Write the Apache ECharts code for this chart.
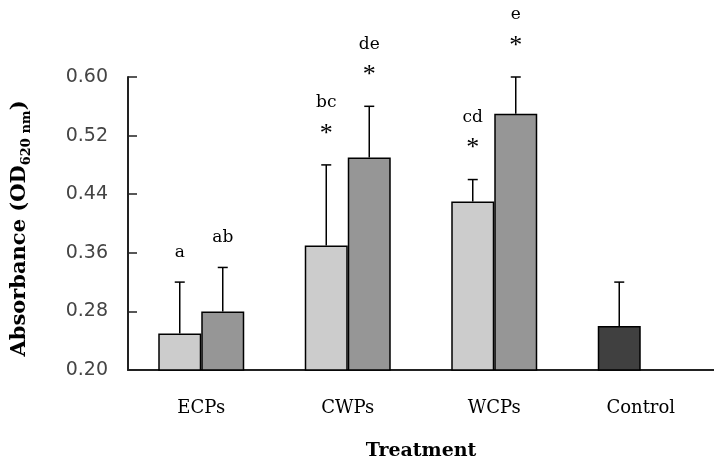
<!DOCTYPE html>
<html>
<head>
<meta charset="utf-8">
<script src="https://cdn.jsdelivr.net/npm/echarts@6/dist/echarts.min.js"></script>
<style>
  html, body { margin: 0; padding: 0; background: #fff; }
  #chart { width: 714px; height: 468px; }
</style>
</head>
<body>
<div id="chart"></div>
<script>
// Treatment groups on the x axis
const categories = ['ECPs', 'CWPs', 'WCPs', 'Control'];

// Mean absorbance, first and second bar of each group
const meanA = [0.25, 0.37, 0.43, 0.26];
const meanB = [0.28, 0.49, 0.55, '-'];

// Upper error (SD) for each bar
const errA = [0.07, 0.11, 0.03, 0.06];
const errB = [0.06, 0.07, 0.05, '-'];

// Significance letters and asterisks above the error bars
const lettersA = ['a', 'bc', 'cd', ''];
const lettersB = ['ab', 'de', 'e', ''];
const starA = [false, true, true, false];
const starB = [false, true, true, false];

// y axis ticks
const yMin = 0.20, yMax = 0.60, yStep = 0.08;

const BAR_W = 43;
const serif = '"DejaVu Serif", "Liberation Serif", serif';

function errorSeries(means, errs, letters, stars, shift) {
  const data = means.map((m, i) => (m === '-' ? null : [i, m, errs[i], letters[i], stars[i] ? 1 : 0])).filter(Boolean);
  return {
    type: 'custom',
    data: data,
    z: 5,
    renderItem: function (params, api) {
      const i = api.value(0);
      const m = api.value(1);
      const e = api.value(2);
      const base = api.coord([i, m]);
      const top = api.coord([i, m + e]);
      const x = base[0] + shift;
      const children = [
        { type: 'line', shape: { x1: x, y1: base[1], x2: x, y2: top[1] }, style: { stroke: '#000', lineWidth: 1.5 } },
        { type: 'line', shape: { x1: x - 5, y1: top[1], x2: x + 5, y2: top[1] }, style: { stroke: '#000', lineWidth: 1.5 } }
      ];
      const letter = data[params.dataIndex][3];
      const star = data[params.dataIndex][4];
      if (letter) {
        children.push({
          type: 'text',
          style: {
            x: x, y: top[1] - (star ? 62 : 30), text: letter,
            fill: '#000', font: '17px ' + serif, align: 'center', verticalAlign: 'middle'
          }
        });
      }
      if (star) {
        children.push({
          type: 'text',
          style: {
            x: x, y: top[1] - 31, text: '*',
            fill: '#000', font: '26px "Liberation Serif", serif', align: 'center', verticalAlign: 'middle'
          }
        });
      }
      return { type: 'group', children: children };
    }
  };
}

const chart = echarts.init(document.getElementById('chart'), null, { renderer: 'canvas' });

chart.setOption({
  animation: false,
  backgroundColor: '#fff',
  grid: { left: 128, right: 0, top: 77, bottom: 98, containLabel: false, outerBoundsMode: 'none' },
  xAxis: {
    type: 'category',
    data: categories,
    name: 'Treatment',
    nameLocation: 'middle',
    nameGap: 72,
    nameTextStyle: { fontFamily: serif, fontWeight: 'bold', fontSize: 19, color: '#000' },
    axisLine: { lineStyle: { color: '#222', width: 2 } },
    axisTick: { inside: true, length: 7, lineStyle: { color: '#222', width: 1.5 } },
    axisLabel: { fontFamily: serif, fontSize: 18, color: '#000', margin: 29 }
  },
  yAxis: {
    type: 'value',
    min: yMin, max: yMax, interval: yStep,
    name: '{b|Absorbance (OD}{s|620 nm}{b|)}',
    nameLocation: 'middle',
    nameRotate: 90,
    nameGap: 95,
    nameTextStyle: {
      padding: [0, 10, 0, 0],
      rich: {
        b: { fontFamily: serif, fontWeight: 'bold', fontSize: 21, color: '#000', lineHeight: 26 },
        s: { fontFamily: serif, fontWeight: 'bold', fontSize: 13, color: '#000', lineHeight: 26, verticalAlign: 'bottom', padding: [8, 0, 0, 0] }
      }
    },
    splitLine: { show: false },
    axisLine: { show: true, lineStyle: { color: '#222', width: 2 } },
    axisTick: { show: true, inside: true, length: 9, lineStyle: { color: '#222', width: 1.5 } },
    axisLabel: {
      fontFamily: '"DejaVu Sans", sans-serif', fontSize: 19, color: '#444', margin: 20,
      formatter: v => v.toFixed(2)
    }
  },
  series: [
    {
      type: 'bar',
      barWidth: BAR_W,
      barGap: '0%',
      data: meanA.map((v, i) => (i === 3 ? { value: v, itemStyle: { color: '#404040' } } : v)),
      itemStyle: { color: '#cccccc', borderColor: '#000', borderWidth: 1.5 }
    },
    {
      type: 'bar',
      barWidth: BAR_W,
      barGap: '0%',
      data: meanB,
      itemStyle: { color: '#969696', borderColor: '#000', borderWidth: 1.5 }
    },
    errorSeries(meanA, errA, lettersA, starA, -BAR_W / 2),
    errorSeries(meanB, errB, lettersB, starB, BAR_W / 2)
  ]
});
</script>
</body>
</html>
